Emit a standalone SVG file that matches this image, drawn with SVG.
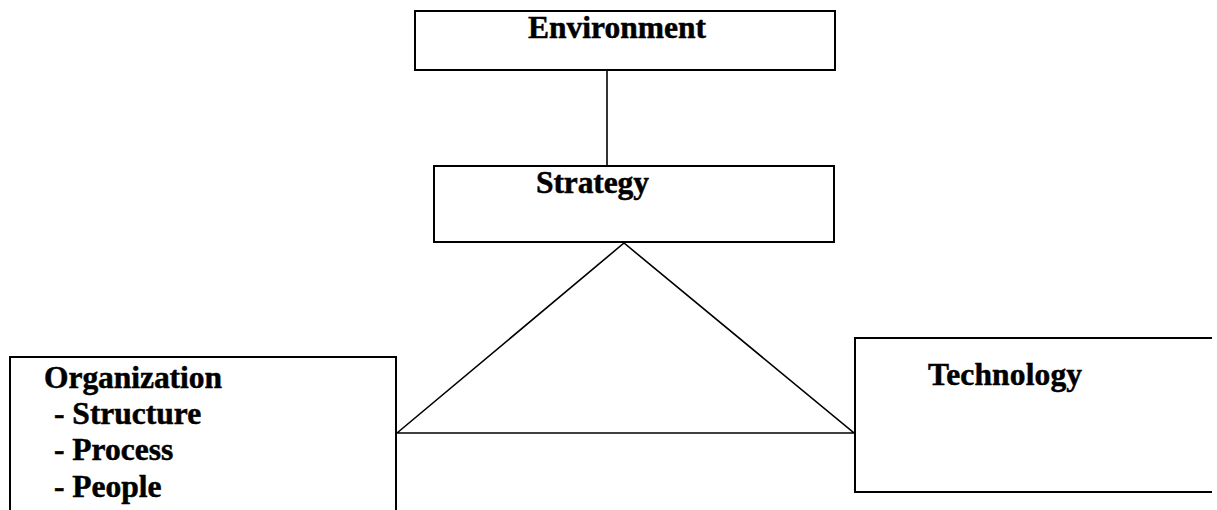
<svg xmlns="http://www.w3.org/2000/svg" width="1217" height="510" viewBox="0 0 1217 510">
<style>
.box{fill:#fff;stroke:#000;stroke-width:2}
.ln{stroke:#000;stroke-width:1.6;fill:none}
text{font-family:"Liberation Serif","Times New Roman",serif;font-weight:bold;font-size:31.5px;fill:#000;stroke:#000;stroke-width:0.5}
</style>
<rect width="1217" height="510" fill="#fff"/>
<g id="connectors">
<line class="ln" x1="607" y1="70" x2="607" y2="166"/>
<polyline class="ln" points="397,433 624,243 854,433 397,433"/>
</g>
<g id="environment">
<rect class="box" x="415" y="11" width="420" height="59"/>
<text x="528" y="38" textLength="178">Environment</text>
</g>
<g id="strategy">
<rect class="box" x="434" y="166" width="400" height="76"/>
<text x="536" y="193" textLength="113">Strategy</text>
</g>
<g id="organization">
<path class="box" d="M10,515 V357 H396 V515"/>
<text x="44" y="388" textLength="178">Organization</text>
<text x="54" y="424">- Structure</text>
<text x="54" y="460">- Process</text>
<text x="54" y="497">- People</text>
</g>
<g id="technology">
<path class="box" d="M1212,338 H855 V492 H1212"/>
<text x="928" y="385" textLength="154">Technology</text>
</g>
</svg>
